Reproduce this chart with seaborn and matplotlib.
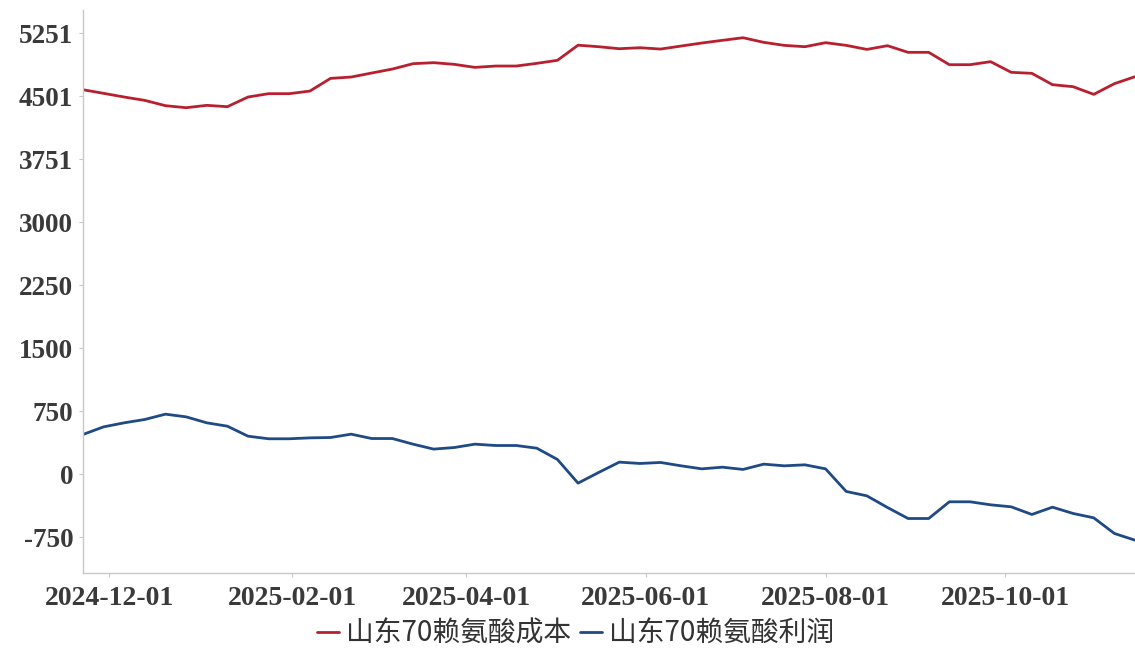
import matplotlib
matplotlib.use("Agg")
import matplotlib.pyplot as plt
import seaborn as sns
import pandas as pd
import numpy as np

dates = pd.date_range("2024-11-22", periods=52, freq="7D")

cost = [4580, 4537, 4493, 4453, 4390, 4366, 4394, 4378, 4493, 4533,
        4533, 4564, 4715, 4731, 4779, 4826, 4890, 4902, 4882, 4846,
        4862, 4862, 4894, 4930, 5110, 5092, 5068, 5080, 5064, 5100,
        5136, 5168, 5199, 5144, 5108, 5092, 5140, 5108, 5060, 5104,
        5025, 5025, 4878, 4878, 4914, 4787, 4775, 4640, 4616, 4525,
        4652, 4735]

profit = [476, 567, 615, 655, 718, 686, 615, 575, 456, 425,
          425, 436, 440, 480, 428, 428, 361, 302, 321, 361,
          345, 345, 313, 179, -103, 24, 147, 131, 143, 103,
          67, 87, 60, 123, 103, 115, 67, -202, -254, -393,
          -524, -524, -325, -325, -361, -385, -476, -389, -464, -516,
          -702, -782]

series_names = ["山东70赖氨酸成本", "山东70赖氨酸利润"]
ytick_vals = [-750, 0, 750, 1500, 2250, 3000, 3751, 4501, 5251]
ytick_labels = ["-750", "0", "750", "1500", "2250", "3000", "3751", "4501", "5251"]
xtick_dates = ["2024-12-01", "2025-02-01", "2025-04-01", "2025-06-01", "2025-08-01", "2025-10-01"]

df = pd.concat([
    pd.DataFrame({"date": dates, "value": cost, "series": series_names[0]}),
    pd.DataFrame({"date": dates, "value": profit, "series": series_names[1]}),
])

sns.set_style("white")
plt.rcParams["font.family"] = ["Liberation Serif", "DejaVu Serif"]

fig = plt.figure(figsize=(11.35, 6.48), dpi=100)
ax = fig.add_axes([0.0731, 0.1157, 0.9269, 0.869])

palette = {series_names[0]: "#B8202F", series_names[1]: "#1F4A86"}
sns.lineplot(data=df, x="date", y="value", hue="series", palette=palette,
             linewidth=2.0, ax=ax, legend=False)

ax.set_xlim(dates[0], dates[-1])
ax.set_ylim(-1173, 5530)
ax.set_yticks(ytick_vals)
ax.set_yticklabels(ytick_labels)
ax.set_xticks(pd.to_datetime(xtick_dates))
ax.set_xticklabels(xtick_dates)
ax.set_xlabel("")
ax.set_ylabel("")

for lab in ax.get_yticklabels():
    lab.set_fontsize(19.5)
    lab.set_fontweight("bold")
    lab.set_color("#3a3a3a")
for lab in ax.get_xticklabels():
    lab.set_fontsize(20)
    lab.set_fontweight("bold")
    lab.set_color("#3a3a3a")

ax.tick_params(axis="both", which="both", length=3, width=0.8, color="#c8c8c8", pad=4,
               direction="out")
ax.tick_params(axis="x", pad=6)
ax.tick_params(axis="y", left=True)
ax.tick_params(axis="x", bottom=True)

for side in ["top", "right"]:
    ax.spines[side].set_visible(False)
for side in ["left", "bottom"]:
    ax.spines[side].set_color("#c8c8c8")
    ax.spines[side].set_linewidth(1.0)
ax.grid(False)

from matplotlib.lines import Line2D
handles = [Line2D([0], [0], color=palette[n], linewidth=2.0) for n in series_names]
leg = fig.legend(handles, series_names, loc="center", bbox_to_anchor=(0.507, 0.022),
                 ncol=2, frameon=False, handlelength=0.8, handletextpad=0.25,
                 columnspacing=0.3, prop={"family": ["Noto Sans CJK SC", "DejaVu Sans"], "size": 20})
for t in leg.get_texts():
    t.set_color("#333333")

fig.savefig("out.png", dpi=100)
